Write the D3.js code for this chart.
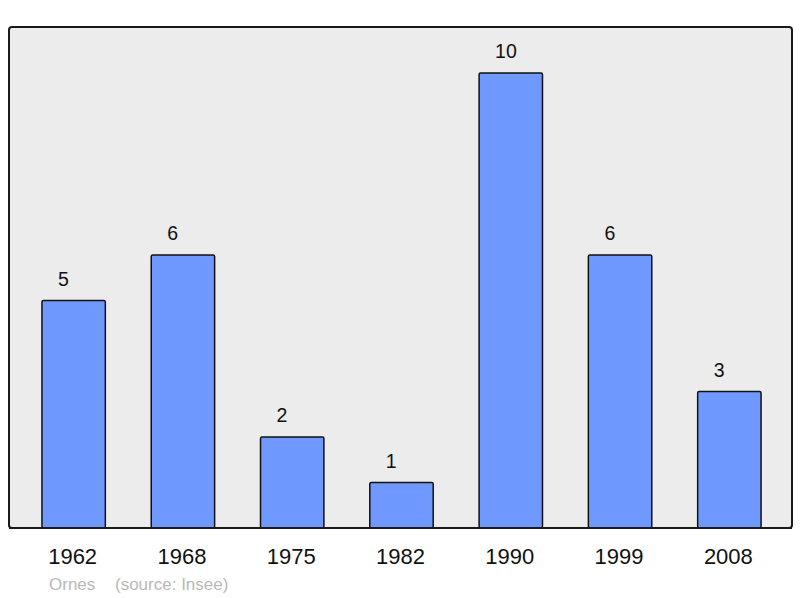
<!DOCTYPE html>
<html>
<head>
<meta charset="utf-8">
<script src="https://cdn.jsdelivr.net/npm/d3@7"></script>
<style>
  body { margin: 0; background: #fff; }
  svg { display: block; font-family: "Liberation Sans", Arial, sans-serif; }
</style>
</head>
<body>
<svg width="800" height="598"></svg>
<script>
'use strict';
// data
const years = ['1962', '1968', '1975', '1982', '1990', '1999', '2008'];
const population = [5, 6, 2, 1, 10, 6, 3];
const commune = 'Ornes';
const source = '(source: Insee)';

const svg = d3.select('svg');

// panel
const panel = { x: 9, y: 27, w: 783, h: 501 };

svg.append('rect')
  .attr('x', panel.x).attr('y', panel.y)
  .attr('width', panel.w).attr('height', panel.h)
  .attr('rx', 3)
  .attr('fill', '#ececec')
  .attr('stroke', '#1a1a1a')
  .attr('stroke-width', 2);

const x = d3.scaleBand()
  .domain(years)
  .range([19, 784])
  .paddingInner(0.42)
  .paddingOuter(0.21);

const y = d3.scaleLinear()
  .domain([0, 10])
  .range([528, 73]);

const rows = years.map((yr, i) => ({ year: yr, value: population[i] }));

// bars
svg.append('g')
  .selectAll('rect')
  .data(rows)
  .join('rect')
  .attr('x', d => x(d.year))
  .attr('y', d => y(d.value))
  .attr('width', x.bandwidth())
  .attr('height', d => y(0) - y(d.value))
  .attr('rx', 1.5)
  .attr('fill', '#7099ff')
  .attr('stroke', '#111')
  .attr('stroke-width', 1.5);

// redraw bottom edge so bars sit on the frame
svg.append('line')
  .attr('x1', panel.x).attr('x2', panel.x + panel.w)
  .attr('y1', 528).attr('y2', 528)
  .attr('stroke', '#1a1a1a').attr('stroke-width', 2);

// value labels
svg.append('g')
  .selectAll('text')
  .data(rows)
  .join('text')
  .attr('x', d => x(d.year) + 16)
  .attr('y', d => y(d.value) - 15)
  .attr('font-size', 19.5)
  .attr('fill', '#111')
  .text(d => d.value);

// year labels
svg.append('g')
  .selectAll('text')
  .data(rows)
  .join('text')
  .attr('x', d => x(d.year) + x.bandwidth() / 2 - 1)
  .attr('y', 564)
  .attr('text-anchor', 'middle')
  .attr('font-size', 22)
  .attr('fill', '#111')
  .text(d => d.year);

// source line
svg.append('text')
  .attr('x', 49).attr('y', 590)
  .attr('font-size', 17)
  .attr('fill', '#b8b8b8')
  .text(commune);

svg.append('text')
  .attr('x', 115).attr('y', 590)
  .attr('font-size', 17)
  .attr('fill', '#b8b8b8')
  .text(source);
</script>
</body>
</html>
